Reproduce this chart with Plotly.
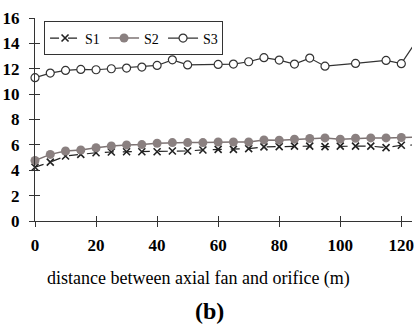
import plotly.graph_objects as go

# data
x_s1 = [0, 5, 10, 15, 20, 25, 30, 35, 40, 45, 50, 55, 60, 65, 70, 75, 80, 85, 90, 95, 100, 105, 110, 115, 120, 125]
y_s1 = [4.24, 4.64, 5.12, 5.25, 5.38, 5.44, 5.46, 5.46, 5.46, 5.52, 5.52, 5.6, 5.65, 5.65, 5.7, 5.84, 5.86, 5.9, 5.9, 5.86, 5.9, 5.9, 5.9, 5.78, 5.97, 6.0]
x_s2 = [0, 5, 10, 15, 20, 25, 30, 35, 40, 45, 50, 55, 60, 65, 70, 75, 80, 85, 90, 95, 100, 105, 110, 115, 120, 125]
y_s2 = [4.77, 5.25, 5.52, 5.6, 5.78, 5.92, 6.0, 6.02, 6.13, 6.18, 6.18, 6.18, 6.23, 6.23, 6.23, 6.39, 6.37, 6.45, 6.5, 6.55, 6.45, 6.52, 6.55, 6.55, 6.58, 6.6]
x_s3 = [0, 5, 10, 15, 20, 25, 30, 35, 40, 45, 50, 60, 65, 70, 75, 80, 85, 90, 95, 105, 115, 120, 125]
y_s3 = [11.3, 11.66, 11.87, 11.95, 11.92, 12.0, 12.05, 12.13, 12.26, 12.7, 12.3, 12.34, 12.37, 12.55, 12.87, 12.68, 12.37, 12.84, 12.2, 12.42, 12.66, 12.4, 14.2]
y_ticks = [0, 2, 4, 6, 8, 10, 12, 14, 16]
x_ticks = [0, 20, 40, 60, 80, 100, 120]

XR = [0, 123.5]
YR = [0, 16]
AX = "#333333"
SERIF = "Liberation Serif"

fig = go.Figure()
fig.add_trace(go.Scatter(x=x_s1, y=y_s1, name="S1", mode="lines+markers",
                         line=dict(color="#222222", width=1.2, dash="dash"),
                         marker=dict(symbol="x-thin", size=7, color="#222222",
                                     line=dict(color="#222222", width=1.6)),
                         cliponaxis=False))
fig.add_trace(go.Scatter(x=x_s2, y=y_s2, name="S2", mode="lines+markers",
                         line=dict(color="#7d7373", width=1.5),
                         marker=dict(symbol="circle", size=9, color="#8a8080"),
                         cliponaxis=False))
fig.add_trace(go.Scatter(x=x_s3, y=y_s3, name="S3", mode="lines+markers",
                         line=dict(color="#333333", width=1.2),
                         marker=dict(symbol="circle", size=8, color="white",
                                     line=dict(color="#333333", width=1.2)),
                         cliponaxis=False))
# helper trace for the inner half of crossing ticks
fig.add_trace(go.Scatter(x=[None], y=[None], xaxis="x2", yaxis="y2",
                         showlegend=False, hoverinfo="skip"))

tickfont = dict(family=SERIF, size=17, color="black", weight="bold")
fig.update_layout(
    width=414, height=331,
    margin=dict(l=35, r=0, t=18, b=110),
    paper_bgcolor="white", plot_bgcolor="white",
    showlegend=True,
    legend=dict(orientation="h", x=0.024, y=0.983, xanchor="left", yanchor="top",
                bordercolor="#333333", borderwidth=1, bgcolor="white",
                font=dict(family=SERIF, size=14, color="black"),
                itemwidth=30, tracegroupgap=0, entrywidth=14, entrywidthmode="pixels"),
    xaxis=dict(range=XR, tickvals=x_ticks, showgrid=False, zeroline=False,
               showline=True, linecolor=AX, linewidth=1, ticks="outside",
               ticklen=5, tickcolor=AX, tickfont=tickfont, ticklabelstandoff=4,
               ticklabeloverflow="allow"),
    yaxis=dict(range=YR, tickvals=y_ticks, showgrid=False, zeroline=False,
               showline=True, linecolor=AX, linewidth=1, ticks="outside",
               ticklen=5, tickcolor=AX, tickfont=tickfont, ticklabelstandoff=6),
    xaxis2=dict(range=XR, tickvals=x_ticks, overlaying="x", side="bottom", showgrid=False,
                zeroline=False, showline=False, ticks="inside", ticklen=5,
                tickcolor=AX, showticklabels=False),
    yaxis2=dict(range=YR, tickvals=y_ticks, overlaying="y", side="left", showgrid=False,
                zeroline=False, showline=False, ticks="inside", ticklen=5,
                tickcolor=AX, showticklabels=False),
    annotations=[
        dict(text="distance between axial fan and orifice (m)", xref="paper", yref="paper",
             x=0.433, y=-0.281, xanchor="center", yanchor="middle", showarrow=False,
             font=dict(family=SERIF, size=18, color="black")),
        dict(text="(b)", xref="paper", yref="paper",
             x=0.464, y=-0.443, xanchor="center", yanchor="middle", showarrow=False,
             font=dict(family=SERIF, size=24, color="black", weight="bold")),
    ],
)

fig.write_html("out.html")
